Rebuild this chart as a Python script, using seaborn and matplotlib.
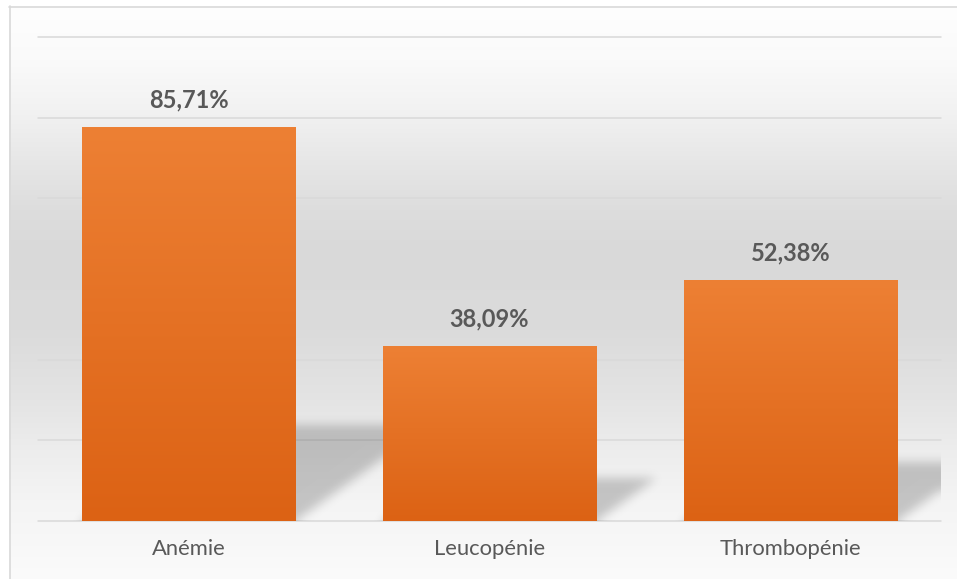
import numpy as np
import matplotlib
matplotlib.use("Agg")
import matplotlib.pyplot as plt
import seaborn as sns
from matplotlib.patches import Rectangle
from matplotlib.lines import Line2D

# ---- data ----
categories = ["Anémie", "Leucopénie", "Thrombopénie"]
values = [85.71, 38.09, 52.38]
value_labels = ["85,71%", "38,09%", "52,38%"]

sns.set_theme(style="white")
plt.rcParams['font.family'] = ['Lato', 'DejaVu Sans']

W, H = 957, 579
fig = plt.figure(figsize=(W / 100, H / 100), dpi=100)
fig.patch.set_facecolor("white")

# ---- chart-area background gradient (vertical) ----
bg = fig.add_axes([0, 0, 1, 1], zorder=-5)
bg.set_axis_off()
bg.set_xlim(0, W)
bg.set_ylim(H, 0)
ys = np.arange(6, H)
pos = [6, 60, 110, 160, 210, 250, 330, 400, 450, 500, 579]
lev = [254, 250, 242, 231, 221, 217, 219, 228, 237, 244, 251]
g = np.interp(ys, pos, lev) / 255.0
img = np.repeat(g[:, None], 3, axis=1)[:, None, :]
bg.imshow(img, extent=(9, W, H, 6), aspect="auto", interpolation="bilinear")
bg.add_line(Line2D([9.5, 9.5], [6, H], color="#d9d9d9", lw=1.2))
bg.add_line(Line2D([9, W], [6.5, 6.5], color="#d9d9d9", lw=1.2))

# ---- main axes ----
ax_left, ax_right, ax_top, ax_bottom = 38, 941, 37, 521
ax = fig.add_axes([ax_left / W, (H - ax_bottom) / H,
                   (ax_right - ax_left) / W, (ax_bottom - ax_top) / H])
ax.set_facecolor("none")

bw = 0.71
sns.barplot(x=categories, y=values, ax=ax, width=bw, color="#e8732a",
            saturation=1, zorder=3)

ymax = 105.4
x0, x1 = -0.5, 2.5
ax.set_xlim(x0, x1)
ax.set_ylim(0, ymax)
ax.set_yticks(np.linspace(0, ymax, 7))
ax.yaxis.grid(True, color="#d9d9d9", lw=1.1)
for gl in ax.get_ygridlines():
    gl.set_clip_on(False)
ax.set_axisbelow(True)
ax.tick_params(axis="y", left=False, labelleft=False)
ax.tick_params(axis="x", length=0, pad=13, labelsize=15.8, labelcolor="#595959")
ax.set_xlabel("")
ax.set_ylabel("")
for s in ax.spines.values():
    s.set_visible(False)

# ---- perspective shadows (derived from the bar data) ----
Wp, Hp = ax_right - ax_left, ax_bottom - ax_top
ppx = Wp / (x1 - x0)
ppy = Hp / ymax
Y, X = np.meshgrid(np.arange(Hp) + 0.5, np.arange(Wp) + 0.5, indexing="ij")
mask = np.zeros((Hp, Wp))
for i, v in enumerate(values):
    bl = (i - bw / 2 - x0) * ppx
    br = (i + bw / 2 - x0) * ppx
    sh = 0.245 * v * ppy
    skew = 1.4 * sh
    t = Y / sh
    inside = (Y <= sh) & (X >= bl + skew * t) & (X <= br + skew * t)
    mask = np.maximum(mask, inside.astype(float))

def blur(a, sigma):
    r = int(3 * sigma)
    k = np.exp(-0.5 * (np.arange(-r, r + 1) / sigma) ** 2)
    k /= k.sum()
    a = np.apply_along_axis(lambda m: np.convolve(np.pad(m, r, mode="edge"), k, mode="valid"), 0, a)
    a = np.apply_along_axis(lambda m: np.convolve(np.pad(m, r, mode="edge"), k, mode="valid"), 1, a)
    return a

mask = blur(mask, 5)
rgba = np.zeros((Hp, Wp, 4))
rgba[..., 3] = mask * 0.2
ax.imshow(rgba, extent=(x0, x1, 0, ymax), origin="lower", aspect="auto",
          interpolation="bilinear", zorder=1)
ax.set_xlim(x0, x1)
ax.set_ylim(0, ymax)

# ---- gradient fill for bars ----
top_c = np.array([237, 128, 52]) / 255
bot_c = np.array([220, 98, 20]) / 255
grad = np.linspace(0, 1, 256)[:, None]
grad_img = (top_c[None, :] * (1 - grad) + bot_c[None, :] * grad)[:, None, :]
for p in list(ax.patches):
    bb = p.get_bbox()
    p.set_facecolor("none")
    p.set_edgecolor("none")
    im = ax.imshow(grad_img, extent=(bb.x0, bb.x1, bb.y0, bb.y1), aspect="auto",
                   origin="upper", zorder=3, interpolation="bilinear")
    im.set_clip_path(p)
ax.set_xlim(x0, x1)
ax.set_ylim(0, ymax)

# ---- value labels ----
for i, (v, lab) in enumerate(zip(values, value_labels)):
    ax.annotate(lab, (i, v), xytext=(0, 19.5), textcoords="offset points",
                ha="center", va="center", fontsize=17, fontweight="bold",
                color="#595959", zorder=5)

fig.savefig("out.png", dpi=100)
